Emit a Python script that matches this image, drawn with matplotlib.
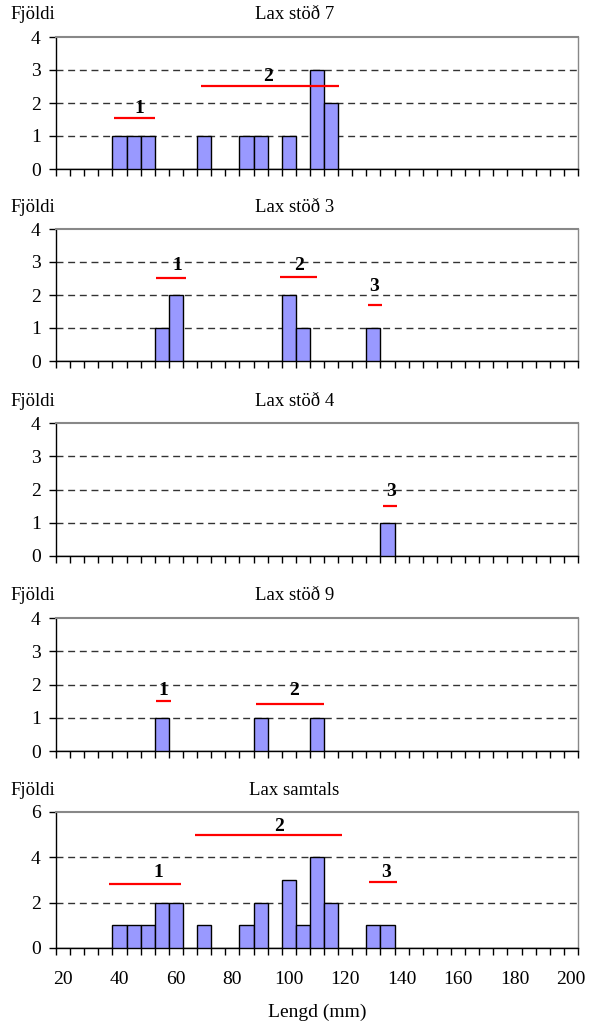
import numpy as np
import matplotlib
matplotlib.use("Agg")
import matplotlib.pyplot as plt

plt.rcParams['font.family'] = ['Liberation Serif', 'DejaVu Serif']

# Length classes (mm), 5 mm bins
lengd = [20, 25, 30, 35, 40, 45, 50, 55, 60, 65, 70, 75, 80, 85, 90, 95, 100,
         105, 110, 115, 120, 125, 130, 135, 140, 145, 150, 155, 160, 165, 170,
         175, 180, 185, 190, 195, 200]

stod7 = [0, 0, 0, 0, 1, 1, 1, 0, 0, 0, 1, 0, 0, 1, 1, 0, 1, 0, 3, 2, 0, 0, 0, 0,
         0, 0, 0, 0, 0, 0, 0, 0, 0, 0, 0, 0, 0]
stod3 = [0, 0, 0, 0, 0, 0, 0, 1, 2, 0, 0, 0, 0, 0, 0, 0, 2, 1, 0, 0, 0, 0, 1, 0,
         0, 0, 0, 0, 0, 0, 0, 0, 0, 0, 0, 0, 0]
stod4 = [0, 0, 0, 0, 0, 0, 0, 0, 0, 0, 0, 0, 0, 0, 0, 0, 0, 0, 0, 0, 0, 0, 0, 1,
         0, 0, 0, 0, 0, 0, 0, 0, 0, 0, 0, 0, 0]
stod9 = [0, 0, 0, 0, 0, 0, 0, 1, 0, 0, 0, 0, 0, 0, 1, 0, 0, 0, 1, 0, 0, 0, 0, 0,
         0, 0, 0, 0, 0, 0, 0, 0, 0, 0, 0, 0, 0]
samtals = [0, 0, 0, 0, 1, 1, 1, 2, 2, 0, 1, 0, 0, 1, 2, 0, 3, 1, 4, 2, 0, 0, 1, 1,
           0, 0, 0, 0, 0, 0, 0, 0, 0, 0, 0, 0, 0]

titles = ["Lax stöð 7", "Lax stöð 3", "Lax stöð 4", "Lax stöð 9", "Lax samtals"]
ymaxes = [4, 4, 4, 4, 6]
ysteps = [1, 1, 1, 1, 2]

# Age-group markers: (label, start mm, end mm, level, label mm, label level)
groups7 = [("1", 37.9, 52.5, 1.54, 46.9, 1.84),
           ("2", 68.9, 117.7, 2.53, 92.6, 2.80)]
groups3 = [("1", 52.9, 63.4, 2.53, 60.4, 2.88),
           ("2", 96.8, 109.9, 2.56, 103.7, 2.88),
           ("3", 128.0, 133.0, 1.71, 130.3, 2.26)]
groups4 = [("3", 133.5, 138.5, 1.51, 136.2, 1.94)]
groups9 = [("1", 52.8, 58.3, 1.49, 55.6, 1.82),
           ("2", 88.3, 112.5, 1.41, 101.9, 1.82)]
groupsS = [("1", 36.3, 61.8, 2.84, 53.8, 3.34),
           ("2", 66.9, 119.0, 4.97, 96.4, 5.36),
           ("3", 128.3, 138.3, 2.91, 134.3, 3.34)]

series = [stod7, stod3, stod4, stod9, samtals]
groups = [groups7, groups3, groups4, groups9, groupsS]

W, H = 589, 1022
fig = plt.figure(figsize=(W / 100, H / 100), dpi=100)

ax_left, ax_right = 56, 578
tops = [37, 229, 423, 618, 812]
bottoms = [169, 361, 556, 751, 948]
title_y = [14, 207, 401, 596, 790]

x = np.arange(len(lengd))


def mm_to_x(mm):
    return (mm - lengd[0]) / (lengd[1] - lengd[0])


for i in range(5):
    ax = fig.add_axes([ax_left / W, 1 - bottoms[i] / H,
                       (ax_right - ax_left) / W, (bottoms[i] - tops[i]) / H])
    ax.bar(x, series[i], width=1.0, color="#9999FF", edgecolor="black",
           linewidth=1.0, zorder=3)
    ax.set_xlim(-0.5, len(lengd) - 0.5)
    ax.set_ylim(0, ymaxes[i])
    yt = np.arange(0, ymaxes[i] + 0.01, ysteps[i])
    ax.set_yticks(yt)
    ax.set_yticklabels([str(int(v)) for v in yt])
    for v in yt[1:-1]:
        ax.axhline(v, color="#333333", linewidth=1.0, dashes=(5, 3.4), zorder=1)
    ax.spines['top'].set_color("#888888")
    ax.spines['right'].set_color("#888888")
    ax.spines['top'].set_linewidth(1.5)
    ax.spines['right'].set_linewidth(1.0)
    ax.spines['left'].set_linewidth(1.0)
    ax.spines['bottom'].set_linewidth(1.0)
    # tick marks at category boundaries
    ax.set_xticks(np.arange(-0.5, len(lengd), 1.0), minor=True)
    ax.tick_params(axis='x', which='minor', direction='out', length=5, width=1)
    ax.tick_params(axis='y', direction='out', length=5, width=1,
                   labelsize=14, pad=6)
    lab_idx = x[::4]
    ax.set_xticks(lab_idx)
    if i == 4:
        ax.set_xticklabels([str(lengd[j]) for j in lab_idx])
        ax.tick_params(axis='x', which='major', length=0, labelsize=14, pad=16.5)
        ax.set_xlabel("Lengd (mm)", fontsize=14, labelpad=11)
    else:
        ax.set_xticklabels([])
        ax.tick_params(axis='x', which='major', length=0)
    for lab, a, b, lev, tx, tlev in groups[i]:
        ax.plot([mm_to_x(a), mm_to_x(b)], [lev, lev], color="red",
                linewidth=1.6, zorder=4, solid_capstyle='butt')
        ax.text(mm_to_x(tx), tlev, lab, ha="center",
                va="center", fontsize=14, fontweight="bold", color="black",
                zorder=5)
    fig.text(0.5, 1 - title_y[i] / H, titles[i], ha="center", va="center",
             fontsize=13.5)
    fig.text(33 / W, 1 - title_y[i] / H, "Fjöldi", ha="center", va="center",
             fontsize=13.5)

fig.savefig("out.png", dpi=100, facecolor="white")
